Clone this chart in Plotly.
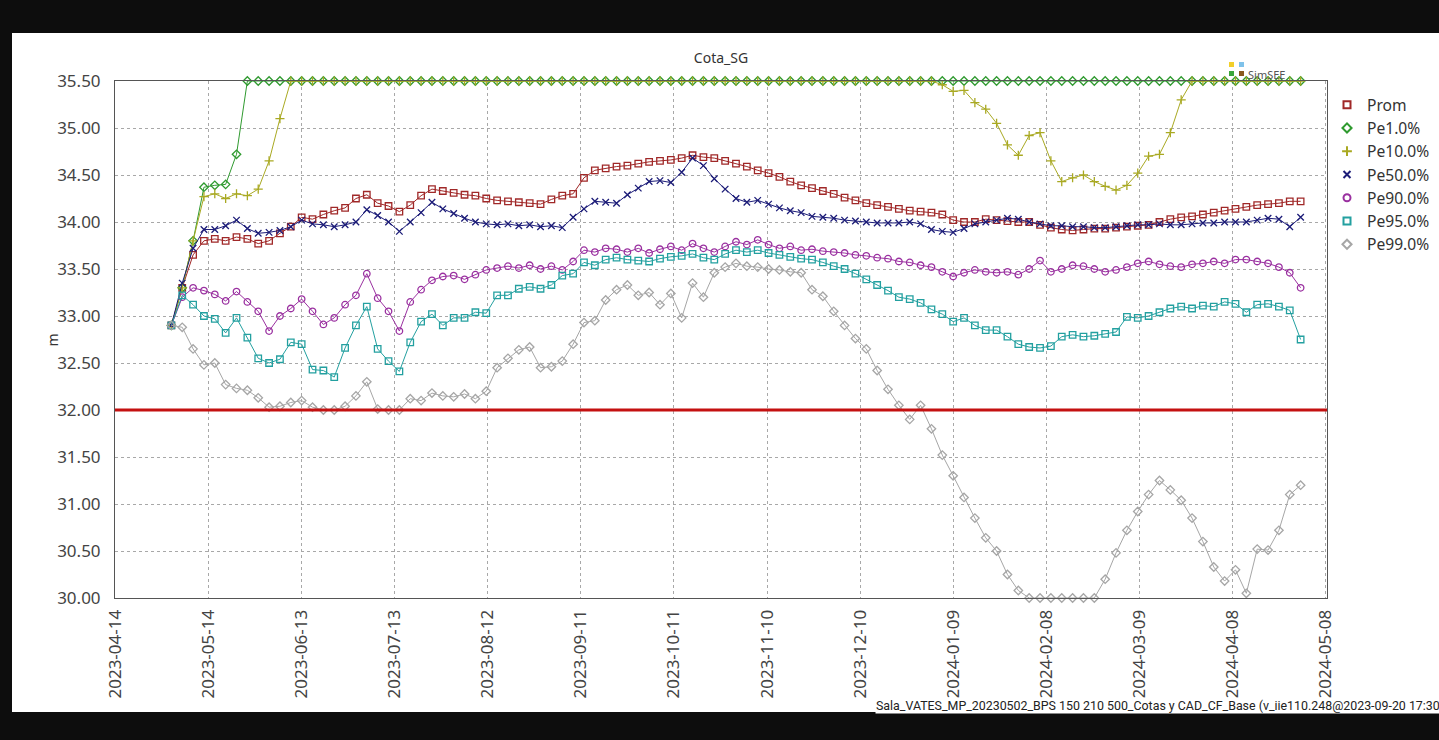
import pandas as pd
import plotly.graph_objects as go

# ---------------- data (half-weekly readings from the picture) ----------------
dates = pd.date_range("2023-05-02", periods=105, freq="84h")

prom = [32.90, 33.30, 33.65, 33.80, 33.82, 33.80, 33.84, 33.82, 33.77, 33.80,
        33.88, 33.95, 34.05, 34.03, 34.08, 34.12, 34.15, 34.25, 34.29, 34.20,
        34.17, 34.11, 34.18, 34.28, 34.35, 34.33, 34.31, 34.29, 34.28, 34.25,
        34.23, 34.22, 34.21, 34.20, 34.19, 34.24, 34.28, 34.30, 34.47, 34.55,
        34.57, 34.59, 34.60, 34.62, 34.64, 34.65, 34.66, 34.68, 34.71, 34.69,
        34.68, 34.65, 34.62, 34.59, 34.55, 34.52, 34.48, 34.43, 34.39, 34.36,
        34.33, 34.30, 34.26, 34.23, 34.20, 34.18, 34.16, 34.14, 34.12, 34.11,
        34.10, 34.08, 34.02, 34.00, 34.00, 34.03, 34.02, 34.01, 34.00, 34.00,
        33.97, 33.94, 33.92, 33.91, 33.92, 33.93, 33.93, 33.94, 33.95, 33.96,
        33.97, 34.00, 34.03, 34.05, 34.06, 34.08, 34.10, 34.12, 34.14, 34.16,
        34.18, 34.19, 34.20, 34.22, 34.22]

pe1 = [32.90, 33.30, 33.80, 34.37, 34.39, 34.40, 34.72, 35.50, 35.50, 35.50,
       35.50, 35.50, 35.50, 35.50, 35.50, 35.50, 35.50, 35.50, 35.50, 35.50,
       35.50, 35.50, 35.50, 35.50, 35.50, 35.50, 35.50, 35.50, 35.50, 35.50,
       35.50, 35.50, 35.50, 35.50, 35.50, 35.50, 35.50, 35.50, 35.50, 35.50,
       35.50, 35.50, 35.50, 35.50, 35.50, 35.50, 35.50, 35.50, 35.50, 35.50,
       35.50, 35.50, 35.50, 35.50, 35.50, 35.50, 35.50, 35.50, 35.50, 35.50,
       35.50, 35.50, 35.50, 35.50, 35.50, 35.50, 35.50, 35.50, 35.50, 35.50,
       35.50, 35.50, 35.50, 35.50, 35.50, 35.50, 35.50, 35.50, 35.50, 35.50,
       35.50, 35.50, 35.50, 35.50, 35.50, 35.50, 35.50, 35.50, 35.50, 35.50,
       35.50, 35.50, 35.50, 35.50, 35.50, 35.50, 35.50, 35.50, 35.50, 35.50,
       35.50, 35.50, 35.50, 35.50, 35.50]

pe10 = [32.90, 33.30, 33.80, 34.27, 34.30, 34.25, 34.30, 34.28, 34.35, 34.65,
        35.10, 35.50, 35.50, 35.50, 35.50, 35.50, 35.50, 35.50, 35.50, 35.50,
        35.50, 35.50, 35.50, 35.50, 35.50, 35.50, 35.50, 35.50, 35.50, 35.50,
        35.50, 35.50, 35.50, 35.50, 35.50, 35.50, 35.50, 35.50, 35.50, 35.50,
        35.50, 35.50, 35.50, 35.50, 35.50, 35.50, 35.50, 35.50, 35.50, 35.50,
        35.50, 35.50, 35.50, 35.50, 35.50, 35.50, 35.50, 35.50, 35.50, 35.50,
        35.50, 35.50, 35.50, 35.50, 35.50, 35.50, 35.50, 35.50, 35.50, 35.50,
        35.50, 35.46, 35.39, 35.40, 35.27, 35.20, 35.05, 34.82, 34.71, 34.92,
        34.95, 34.65, 34.43, 34.47, 34.50, 34.43, 34.38, 34.34, 34.39, 34.52,
        34.70, 34.72, 34.95, 35.30, 35.50, 35.50, 35.50, 35.50, 35.50, 35.50,
        35.50, 35.50, 35.50, 35.50, 35.50]

pe50 = [32.90, 33.35, 33.72, 33.92, 33.92, 33.96, 34.02, 33.93, 33.88, 33.89,
        33.91, 33.95, 34.02, 33.98, 33.97, 33.95, 33.97, 34.00, 34.13, 34.07,
        34.00, 33.90, 34.00, 34.10, 34.21, 34.14, 34.09, 34.04, 34.00, 33.98,
        33.97, 33.98, 33.96, 33.97, 33.95, 33.96, 33.94, 34.05, 34.14, 34.22,
        34.21, 34.20, 34.29, 34.36, 34.43, 34.44, 34.42, 34.53, 34.68, 34.60,
        34.46, 34.35, 34.25, 34.21, 34.23, 34.19, 34.15, 34.12, 34.10, 34.06,
        34.05, 34.04, 34.02, 34.01, 34.00, 33.99, 33.99, 33.99, 34.00, 33.98,
        33.92, 33.90, 33.89, 33.93, 33.98, 34.00, 34.02, 34.04, 34.03, 34.00,
        33.98, 33.96, 33.96, 33.95, 33.95, 33.94, 33.94, 33.95, 33.96, 33.97,
        33.97, 33.98, 33.97, 33.97, 33.98, 33.99, 33.99, 34.00, 34.00, 34.00,
        34.02, 34.04, 34.03, 33.95, 34.05]

pe90 = [32.90, 33.20, 33.30, 33.27, 33.23, 33.16, 33.26, 33.15, 33.05, 32.84,
        33.00, 33.08, 33.18, 33.05, 32.91, 32.98, 33.12, 33.22, 33.45, 33.19,
        33.05, 32.84, 33.15, 33.28, 33.38, 33.42, 33.43, 33.39, 33.44, 33.49,
        33.51, 33.53, 33.51, 33.54, 33.50, 33.53, 33.49, 33.58, 33.70, 33.68,
        33.72, 33.71, 33.68, 33.72, 33.67, 33.71, 33.74, 33.70, 33.77, 33.72,
        33.68, 33.74, 33.79, 33.76, 33.81, 33.76, 33.72, 33.74, 33.70, 33.71,
        33.69, 33.68, 33.67, 33.65, 33.64, 33.62, 33.61, 33.58, 33.57, 33.54,
        33.52, 33.47, 33.42, 33.46, 33.49, 33.47, 33.46, 33.47, 33.44, 33.50,
        33.59, 33.47, 33.50, 33.54, 33.53, 33.50, 33.47, 33.49, 33.52, 33.56,
        33.58, 33.55, 33.53, 33.52, 33.55, 33.56, 33.58, 33.56, 33.60, 33.60,
        33.58, 33.56, 33.52, 33.46, 33.30]

pe95 = [32.90, 33.22, 33.12, 33.00, 32.97, 32.82, 32.98, 32.77, 32.55, 32.50,
        32.54, 32.72, 32.70, 32.43, 32.42, 32.35, 32.66, 32.90, 33.10, 32.65,
        32.52, 32.41, 32.72, 32.94, 33.02, 32.90, 32.98, 32.98, 33.04, 33.03,
        33.22, 33.22, 33.29, 33.31, 33.29, 33.33, 33.43, 33.45, 33.57, 33.54,
        33.60, 33.62, 33.60, 33.59, 33.58, 33.61, 33.63, 33.64, 33.66, 33.62,
        33.60, 33.66, 33.70, 33.68, 33.70, 33.67, 33.65, 33.63, 33.61, 33.60,
        33.57, 33.53, 33.50, 33.45, 33.39, 33.33, 33.27, 33.20, 33.18, 33.14,
        33.07, 33.02, 32.94, 32.98, 32.90, 32.85, 32.85, 32.78, 32.70, 32.67,
        32.66, 32.68, 32.78, 32.80, 32.78, 32.79, 32.81, 32.83, 32.99, 32.98,
        33.00, 33.04, 33.08, 33.10, 33.08, 33.11, 33.10, 33.15, 33.13, 33.04,
        33.12, 33.13, 33.10, 33.06, 32.75]

pe99 = [32.90, 32.88, 32.65, 32.48, 32.50, 32.27, 32.23, 32.21, 32.13, 32.03,
        32.04, 32.08, 32.10, 32.03, 32.00, 32.00, 32.04, 32.15, 32.30, 32.01,
        32.00, 32.00, 32.12, 32.10, 32.18, 32.15, 32.14, 32.17, 32.12, 32.20,
        32.45, 32.55, 32.64, 32.67, 32.45, 32.46, 32.52, 32.70, 32.93, 32.95,
        33.17, 33.28, 33.33, 33.22, 33.25, 33.12, 33.24, 32.98, 33.35, 33.20,
        33.46, 33.52, 33.56, 33.53, 33.52, 33.50, 33.49, 33.47, 33.46, 33.28,
        33.21, 33.05, 32.90, 32.76, 32.65, 32.42, 32.22, 32.05, 31.90, 32.05,
        31.80, 31.52, 31.30, 31.07, 30.85, 30.64, 30.50, 30.25, 30.08, 30.00,
        30.00, 30.00, 30.00, 30.00, 30.00, 30.00, 30.20, 30.48, 30.72, 30.92,
        31.10, 31.25, 31.15, 31.04, 30.85, 30.60, 30.33, 30.18, 30.30, 30.05,
        30.52, 30.51, 30.72, 31.10, 31.20]

threshold = 32.0
x_ticks_start = "2023-04-14"
footer = "Sala_VATES_MP_20230502_BPS 150 210 500_Cotas y CAD_CF_Base (v_iie110.248@2023-09-20 17:30"

series = [
    ("Prom", prom, "#a02828", "square-open"),
    ("Pe1.0%", pe1, "#2f9a2f", "diamond-open"),
    ("Pe10.0%", pe10, "#a9a922", "cross-thin-open"),
    ("Pe50.0%", pe50, "#1c1c78", "x-thin-open"),
    ("Pe90.0%", pe90, "#9a30a0", "circle-open"),
    ("Pe95.0%", pe95, "#23a0a0", "square-open"),
    ("Pe99.0%", pe99, "#a6a6a6", "diamond-open"),
]

# ---------------- figure ----------------
W, H = 1439, 740
L, R, T, B = 115, 1327, 81, 598   # plot area in pixels
pw, ph = R - L, B - T


def px(x):
    return (x - L) / pw


def py(y):
    return (B - y) / ph


fig = go.Figure()
for name, vals, color, sym in series:
    fig.add_trace(go.Scatter(
        x=dates, y=vals, mode="lines+markers", name=name, showlegend=False,
        line=dict(color=color, width=1),
        marker=dict(symbol=sym, size=6.5, color=color, line=dict(width=1.3, color=color)),
        cliponaxis=False, legendgroup=name))
for name, vals, color, sym in series:
    fig.add_trace(go.Scatter(
        x=[None], y=[None], mode="markers", name=name, showlegend=True,
        marker=dict(symbol=sym, size=7, color=color, line=dict(width=2, color=color)),
        legendgroup=name))

shapes = [
    # white panel
    dict(type="rect", xref="paper", yref="paper", x0=px(12), x1=px(1445), y0=py(712), y1=py(33),
         fillcolor="white", line=dict(width=0), layer="below"),
    # threshold line
    dict(type="line", xref="paper", yref="y", x0=0, x1=1, y0=threshold, y1=threshold,
         line=dict(color="#c41010", width=3), layer="above"),
]
logo = [("#f2cf2a", 1229, 1234, 62, 67), ("#7fc2ea", 1239, 1244, 62, 67),
        ("#3aa63a", 1229, 1234, 71, 76), ("#8a5a1e", 1239, 1244, 71, 76)]
for c, x0, x1, y0, y1 in logo:
    shapes.append(dict(type="rect", xref="paper", yref="paper", x0=px(x0), x1=px(x1),
                       y0=py(y1), y1=py(y0), fillcolor=c, line=dict(width=0)))

annotations = [
    dict(text="m", xref="paper", yref="paper", x=px(40), y=py(340), showarrow=False,
         textangle=-90, font=dict(size=14, color="#333")),
    dict(text="SimSEE", xref="paper", yref="paper", x=px(1246), y=py(74), xanchor="left",
         yanchor="middle", showarrow=False, font=dict(size=11, color="#555")),
    dict(text=footer, xref="paper", yref="paper", x=px(1441), y=py(705), xanchor="right",
         yanchor="middle", showarrow=False, bgcolor="white", borderpad=0,
         font=dict(size=12.4, color="#222", family="Roboto")),
]

fig.update_layout(
    width=W, height=H, autosize=False,
    paper_bgcolor="#0d0d0d", plot_bgcolor="rgba(0,0,0,0)",
    margin=dict(l=L, r=W - R, t=T, b=H - B, pad=0, autoexpand=False),
    font=dict(family="Noto Sans", color="#333"),
    title=dict(text="Cota_SG", x=721 / W, xanchor="center",
               y=1 - 58 / H, yanchor="middle", font=dict(size=14, color="#333")),
    shapes=shapes, annotations=annotations,
    legend=dict(x=px(1327), y=py(88), xanchor="left", yanchor="top",
                font=dict(size=15.6, color="#333"), bgcolor="rgba(0,0,0,0)",
                itemwidth=30, tracegroupgap=0),
    showlegend=True,
)
fig.update_xaxes(
    type="date", range=["2023-04-13 20:00", "2024-05-08 12:00"],
    tickmode="linear", tick0=x_ticks_start, dtick=30 * 86400000,
    tickformat="%Y-%m-%d", tickangle=-90, tickfont=dict(size=17, color="#444"),
    showgrid=True, gridcolor="#a8a8a8", griddash="dot", gridwidth=1,
    showline=True, linecolor="#555", linewidth=1, mirror=True, zeroline=False,
    ticks="", ticklabelstandoff=4)
fig.update_yaxes(
    range=[30, 35.5], tickmode="linear", tick0=30, dtick=0.5, tickformat=".2f",
    tickfont=dict(size=17, color="#444"),
    showgrid=True, gridcolor="#a8a8a8", griddash="dot", gridwidth=1,
    showline=True, linecolor="#555", linewidth=1, mirror=True, zeroline=False,
    ticks="", ticklabelstandoff=10)

fig.write_html(
    "out.html",
    config={"displayModeBar": False, "responsive": False},
    post_script=("document.body.style.margin='0';"
                 "document.body.style.overflow='hidden';"
                 "document.documentElement.style.overflow='hidden';"
                 "document.body.style.background='#0d0d0d';"),
)
